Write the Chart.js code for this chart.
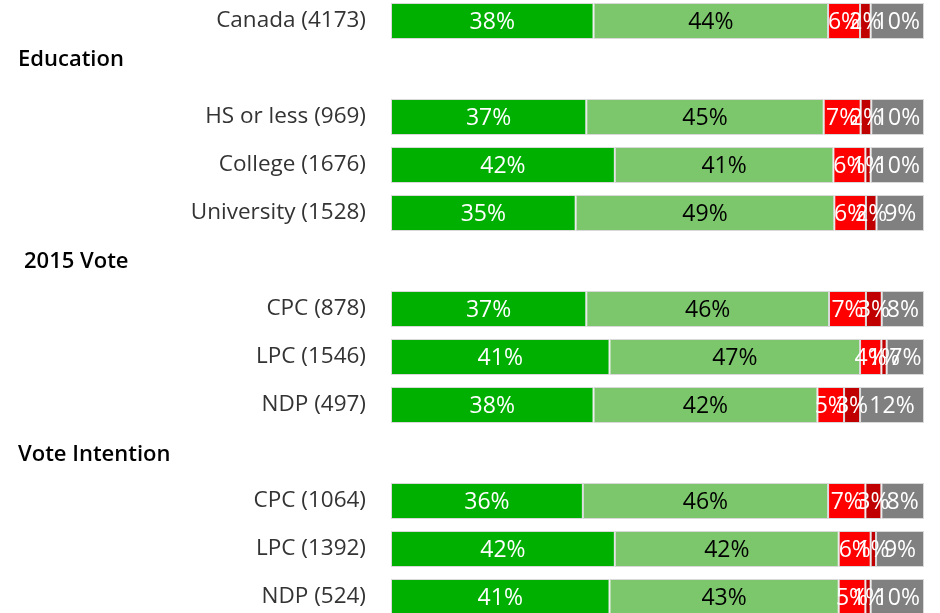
<!DOCTYPE html>
<html>
<head>
<meta charset="utf-8">
<script src="https://cdn.jsdelivr.net/npm/chart.js@4"></script>
<style>
  html, body { margin: 0; padding: 0; background: #fff; overflow: hidden; }
  #chart { position: absolute; left: 0; top: -3px; width: 940px; height: 624px; }
</style>
</head>
<body>
<canvas id="chart" width="940" height="624"></canvas>
<script>
// Row labels (empty string = section header row)
const rowLabels = ['Canada (4173)', '', 'HS or less (969)', 'College (1676)', 'University (1528)', '',
  'CPC (878)', 'LPC (1546)', 'NDP (497)', '', 'CPC (1064)', 'LPC (1392)', 'NDP (524)'];
const headers = ['', 'Education', '', '', '', '2015 Vote', '', '', '', 'Vote Intention', '', '', ''];

// Percentages per response, one array per segment (null on header rows)
const veryGood  = [38, null, 37, 42, 35, null, 37, 41, 38, null, 36, 42, 41];
const good      = [44, null, 45, 41, 49, null, 46, 47, 42, null, 46, 42, 43];
const bad       = [6,  null, 7,  6,  6,  null, 7,  4,  5,  null, 7,  6,  5];
const veryBad   = [2,  null, 2,  1,  2,  null, 3,  1,  3,  null, 3,  1,  1];
const dontKnow  = [10, null, 10, 10, 9,  null, 8,  7,  12, null, 8,  9,  10];

const series = [veryGood, good, bad, veryBad, dontKnow];
const colors = ['#00b000', '#7cc76c', '#ff0000', '#c00000', '#808080'];
const labelColors = ['#fff', '#000', '#fff', '#fff', '#fff'];

// bars fill the full width, so scale each row by its total
const rowTotals = rowLabels.map((_, i) => series.reduce((s, arr) => s + (arr[i] || 0), 0));

const datasets = series.map((arr, k) => ({
  data: arr.map((v, i) => v == null ? null : v / rowTotals[i] * 100),
  raw: arr,
  backgroundColor: colors[k],
  borderColor: '#d9d9d9',
  borderWidth: 1,
  borderSkipped: false,
  barPercentage: 0.75,
  categoryPercentage: 1
}));

// Percent labels inside each segment
const segmentLabels = {
  id: 'segmentLabels',
  afterDatasetsDraw(chart) {
    const ctx = chart.ctx;
    ctx.save();
    ctx.font = '23px "Open Sans"';
    ctx.textAlign = 'center';
    ctx.textBaseline = 'middle';
    chart.data.datasets.forEach((ds, k) => {
      chart.getDatasetMeta(k).data.forEach((bar, i) => {
        const v = ds.raw[i];
        if (v == null) return;
        const c = bar.getCenterPoint();
        ctx.fillStyle = labelColors[k];
        ctx.fillText(v + '%', c.x, c.y + 1);
      });
    });
    ctx.restore();
  }
};

// Section headers, left aligned
const sectionHeaders = {
  id: 'sectionHeaders',
  afterDraw(chart) {
    const ctx = chart.ctx;
    const y = chart.scales.y;
    ctx.save();
    ctx.font = '600 22px "Open Sans"';
    ctx.fillStyle = '#000';
    ctx.textBaseline = 'middle';
    headers.forEach((h, i) => {
      if (!h) return;
      const offset = i === 1 ? -9 : (i === 5 ? 1 : 2);
      ctx.fillText(h, h === '2015 Vote' ? 24 : 18, y.getPixelForValue(i) + offset);
    });
    ctx.restore();
  }
};

new Chart(document.getElementById('chart'), {
  type: 'bar',
  data: { labels: rowLabels, datasets: datasets },
  options: {
    indexAxis: 'y',
    responsive: false,
    animation: false,
    layout: { padding: { left: 0, right: 16, top: 0, bottom: 0 } },
    plugins: { legend: { display: false }, tooltip: { enabled: false } },
    scales: {
      x: { stacked: true, min: 0, max: 100, display: false },
      y: {
        stacked: true,
        grid: { display: false, drawTicks: false },
        border: { display: false },
        ticks: { color: '#333', font: { family: 'Open Sans', size: 22.5 }, padding: 25, autoSkip: false },
        afterFit(scale) {
          scale.width = 391;
          // tick padding would otherwise be added above and below the rows
          scale.paddingTop = 0;
          scale.paddingBottom = 0;
        }
      }
    }
  },
  plugins: [segmentLabels, sectionHeaders]
});
</script>
</body>
</html>
